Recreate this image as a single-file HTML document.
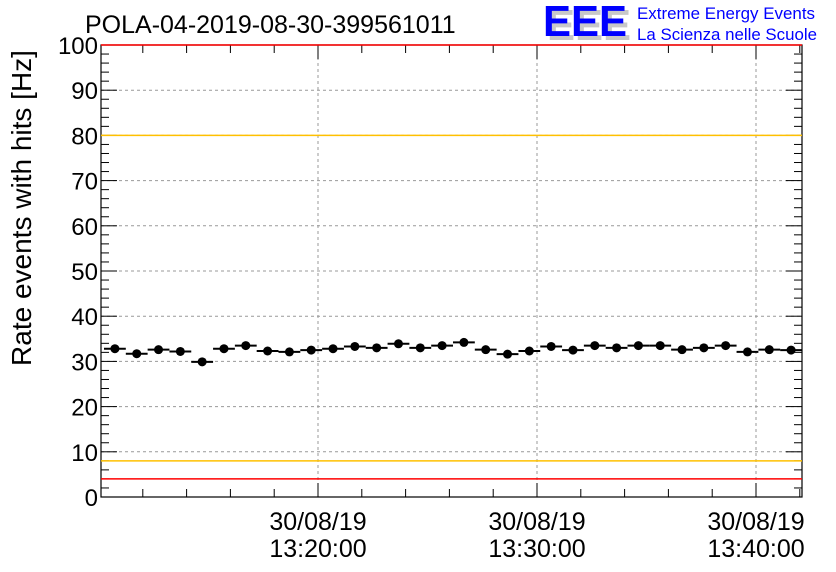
<!DOCTYPE html>
<html><head><meta charset="utf-8"><style>
body{margin:0;background:#fff;}
svg{display:block;font-family:"Liberation Sans",sans-serif;}
</style></head><body>
<svg id="c" width="836" height="572">
<text x="85" y="33" font-size="25">POLA-04-2019-08-30-399561011</text>
<g>
<text x="547" y="40" font-size="44" font-weight="bold" fill="#c8c8c8" textLength="84" lengthAdjust="spacingAndGlyphs">EEE</text>
<text x="543" y="36" font-size="44" font-weight="bold" fill="#0000ff" textLength="84" lengthAdjust="spacingAndGlyphs">EEE</text>
<text x="637" y="19" font-size="16.5" fill="#0000ff" textLength="178" lengthAdjust="spacingAndGlyphs">Extreme Energy Events</text>
<text x="637" y="40" font-size="16.5" fill="#0000ff" textLength="180" lengthAdjust="spacingAndGlyphs">La Scienza nelle Scuole</text>
</g>
<text transform="translate(31,208) rotate(-90)" text-anchor="middle" font-size="28">Rate events with hits [Hz]</text>
<g id="grid"></g><g id="axes"></g><g id="marks"></g>
</svg>
<script>
const values=[32.8,31.7,32.6,32.2,29.9,32.8,33.5,32.3,32.1,32.5,32.8,33.3,33.0,33.9,33.0,33.5,34.2,32.6,31.6,32.3,33.3,32.5,33.5,33.0,33.5,33.5,32.6,33.0,33.5,32.1,32.6,32.5];
const yTicks=[0,10,20,30,40,50,60,70,80,90,100];
const xLabelMinutes=[10,20,30];
const xLabelDates=["30/08/19","30/08/19","30/08/19"];
const xLabelTimes=["13:20:00","13:30:00","13:40:00"];
const refRed=[100,4];
const refOrange=[80,8];
const L=101,R=802,T=45,B=497;
const x0=104,bw=(R-x0)/values.length;
const y=v=>B-(v/100)*(B-T);
const xm=m=>318+(m-10)*21.9;
const NS="http://www.w3.org/2000/svg";
function mk(tag,attrs,parent){const e=document.createElementNS(NS,tag);for(const k in attrs)e.setAttribute(k,attrs[k]);parent.appendChild(e);return e;}
const grid=document.getElementById('grid'),axes=document.getElementById('axes'),marks=document.getElementById('marks');
yTicks.forEach(v=>{if(v>0&&v<100){const g=mk('line',{x1:L,x2:R,y1:y(v),y2:y(v),stroke:'#999','stroke-dasharray':'3,3','stroke-width':1},grid);

}
const t=mk('text',{x:98,y:y(v)+9,'text-anchor':'end','font-size':24},axes);t.textContent=v;


mk('line',{x1:L,x2:L+16,y1:y(v),y2:y(v),stroke:'#000'},axes);mk('line',{x1:R,x2:R-16,y1:y(v),y2:y(v),stroke:'#000'},axes);
if(v<100)for(let k=1;k<5;k++){const yy=y(v+k*2);mk('line',{x1:L,x2:L+8,y1:yy,y2:yy,stroke:'#000'},axes);mk('line',{x1:R,x2:R-8,y1:yy,y2:yy,stroke:'#000'},axes);}
});
xLabelMinutes.forEach((m,i)=>{const xx=xm(m);
const g=mk('line',{x1:xx,x2:xx,y1:T,y2:B,stroke:'#999','stroke-dasharray':'3,3'},grid);


const a=mk('text',{x:xx,y:530,'text-anchor':'middle','font-size':25},axes);a.textContent=xLabelDates[i];


const b=mk('text',{x:xx,y:557,'text-anchor':'middle','font-size':25},axes);b.textContent=xLabelTimes[i];

});
for(let m=0;m<=32;m+=2){const xx=xm(m);if(xx<L||xx>R)continue;const big=m%10===0;
mk('line',{x1:xx,x2:xx,y1:B,y2:B-(big?14:8),stroke:'#000'},axes);mk('line',{x1:xx,x2:xx,y1:T,y2:T+(big?14:8),stroke:'#000'},axes);}
mk('rect',{x:L,y:T,width:R-L,height:B-T,fill:'none',stroke:'#000','stroke-width':1.2},axes);
refRed.forEach(v=>{const l=mk('line',{x1:L,x2:R,y1:y(v),y2:y(v),stroke:'#ff0000','stroke-width':1.5},marks);

});
refOrange.forEach(v=>{const l=mk('line',{x1:L,x2:R,y1:y(v),y2:y(v),stroke:'#ffc000','stroke-width':1.5},marks);

});
values.forEach((v,i)=>{const xl=x0+i*bw,yy=y(v);
const h=mk('line',{x1:xl,x2:xl+bw,y1:yy,y2:yy,stroke:'#000','stroke-width':2},marks);


const c=mk('circle',{cx:xl+bw/2,cy:yy,r:4.5,fill:'#000'},marks);

});
</script>
</body></html>
